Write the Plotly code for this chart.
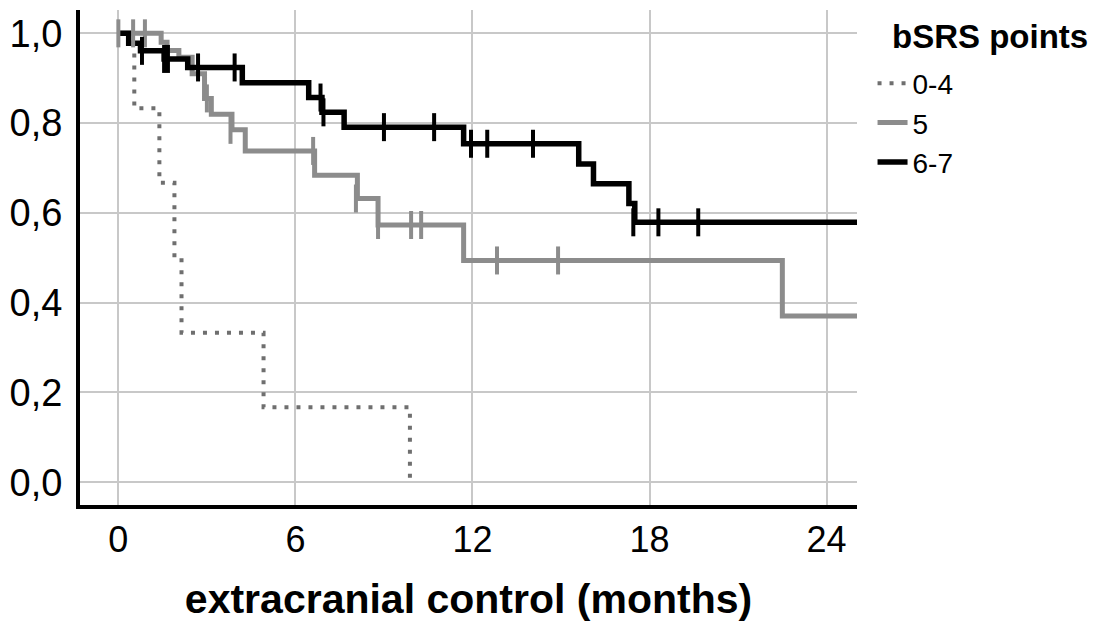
import plotly.graph_objects as go

# ---- data ----
groups = ["0-4", "5", "6-7"]
legend_title = "bSRS points"
x_title = "extracranial control (months)"

t_04 = [0, 0.54, 1.39, 1.90, 2.14, 4.92, 9.88]
s_04 = [1.0, 0.833, 0.667, 0.5, 0.333, 0.167, 0.0]

t_5 = [0, 1.45, 1.65, 2.05, 2.5, 2.92, 3.15, 3.85, 4.3, 6.65, 8.1, 8.8, 11.7, 22.5, 25.1]
s_5 = [1.0, 0.98, 0.962, 0.947, 0.91, 0.855, 0.82, 0.785, 0.738, 0.684, 0.632, 0.573, 0.494, 0.37, 0.37]
c5_t = [0.0, 0.5, 0.9, 3.0, 3.8, 6.6, 8.05, 8.8, 9.92, 10.26, 12.83, 14.9]
c5_s = [1.0, 1.0, 1.0, 0.855, 0.785, 0.738, 0.632, 0.573, 0.573, 0.573, 0.494, 0.494]

t_67 = [0, 0.35, 0.75, 1.55, 2.35, 4.2, 6.45, 6.9, 7.65, 11.7, 15.6, 16.1, 17.3, 17.5, 25.1]
s_67 = [1.0, 0.978, 0.961, 0.943, 0.924, 0.89, 0.857, 0.824, 0.791, 0.754, 0.709, 0.665, 0.621, 0.579, 0.579]
c67_t = [0.8, 1.55, 1.68, 2.7, 3.94, 6.85, 6.95, 9.0, 10.7, 11.95, 12.5, 14.05, 17.45, 18.3, 19.65]
c67_s = [0.961, 0.943, 0.943, 0.924, 0.924, 0.857, 0.824, 0.791, 0.791, 0.754, 0.754, 0.754, 0.579, 0.579, 0.579]

x_ticks = [0, 6, 12, 18, 24]
y_ticks = [0.0, 0.2, 0.4, 0.6, 0.8, 1.0]

FONT = "Arial, Liberation Sans, sans-serif"
C_DOT = "#6f6f6f"
C_GRAY = "#8c8c8c"
C_BLACK = "#000000"

fig = go.Figure()

fig.add_trace(go.Scatter(x=t_04, y=s_04, mode="lines", line_shape="hv", name=groups[0],
                         line=dict(color=C_DOT, width=4, dash="4px,8px")))
fig.add_trace(go.Scatter(x=t_5, y=s_5, mode="lines", line_shape="hv", name=groups[1],
                         line=dict(color=C_GRAY, width=5)))
fig.add_trace(go.Scatter(x=t_67, y=s_67, mode="lines", line_shape="hv", name=groups[2],
                         line=dict(color=C_BLACK, width=5.5)))

fig.add_trace(go.Scatter(x=c5_t, y=c5_s, mode="markers", showlegend=False,
                         marker=dict(symbol="line-ns", size=20, line=dict(color=C_GRAY, width=4))))
fig.add_trace(go.Scatter(x=c67_t, y=c67_s, mode="markers", showlegend=False,
                         marker=dict(symbol="line-ns", size=20, line=dict(color=C_BLACK, width=4))))

fig.add_annotation(text="<b>" + legend_title + "</b>", xref="paper", yref="paper",
                   x=1.0424, y=0.946, xanchor="left", yanchor="middle", showarrow=False,
                   font=dict(size=33, family=FONT, color="black"))

fig.update_layout(
    width=1099, height=625,
    margin=dict(l=78, r=242, t=10, b=116),
    paper_bgcolor="white", plot_bgcolor="white",
    separators=", ",
    font=dict(family=FONT, color="black"),
    showlegend=True,
    legend=dict(
        x=1.02, xanchor="left", y=0.902, yanchor="top",
        font=dict(size=28, family=FONT, color="black"),
        itemwidth=30, tracegroupgap=0, bgcolor="rgba(0,0,0,0)",
    ),
    xaxis=dict(
        range=[-1.30, 25.03], tickvals=x_ticks, ticktext=[str(v) for v in x_ticks],
        showgrid=True, gridcolor="#c8c8c8", gridwidth=1.5,
        showline=True, linecolor="black", linewidth=4, zeroline=False,
        ticks="", tickfont=dict(size=36, family=FONT), ticklabelstandoff=0,
        title=dict(text="<b>" + x_title + "</b>", font=dict(size=41, family=FONT), standoff=26),
    ),
    yaxis=dict(
        range=[-0.0508, 1.052], tickvals=y_ticks, tickformat=".1f",
        showgrid=True, gridcolor="#c8c8c8", gridwidth=1.5,
        showline=True, linecolor="black", linewidth=4, zeroline=False,
        ticks="", tickfont=dict(size=38, family=FONT), ticklabelstandoff=6,
    ),
)

fig.write_html("out.html")
